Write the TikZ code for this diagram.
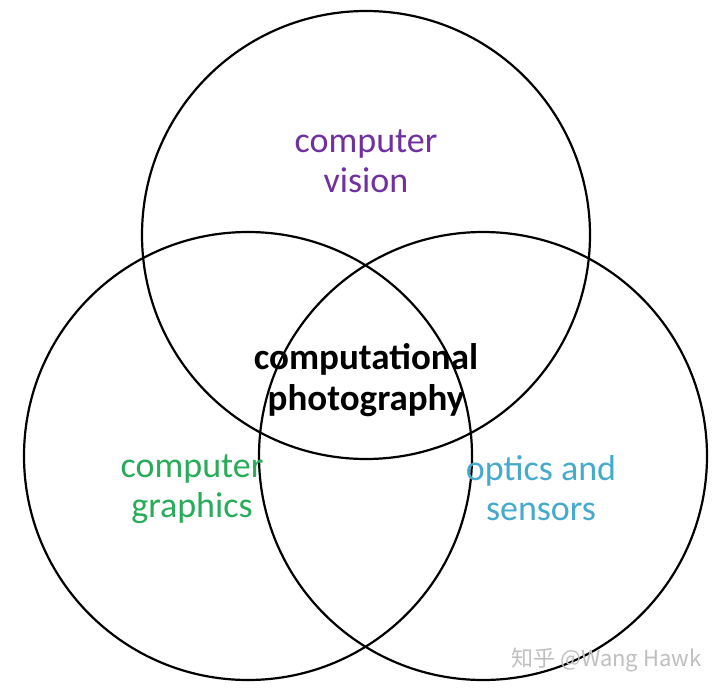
\documentclass[tikz,border=0pt]{standalone}
\usepackage{fontspec}
\setmainfont{Carlito}
\newfontfamily\cjk{Noto Sans CJK SC}
\usetikzlibrary{positioning}

\definecolor{cvpurple}{RGB}{112,48,160}
\definecolor{cggreen}{RGB}{40,172,90}
\definecolor{osblue}{RGB}{70,170,205}

\tikzset{
  field/.style={circle,draw,line width=2.2pt,minimum size=448pt,inner sep=0pt},
  label text/.style={align=center,font=\fontsize{36}{40}\selectfont}
}

\begin{document}
\begin{tikzpicture}[x=1pt,y=-1pt]
    \useasboundingbox (0,0) rectangle (720,693);
    \fill[white] (0,0) rectangle (720,693);
    \node[field] (vision) at (366,235) {};
    \node[field] (graphics) at (248,456) {};
    \node[field] (optics) at (483,456) {};
    \node[label text,text=cvpurple] (cv) at (366,161) {computer\\vision};
    \node[label text,text=cggreen] (cg) at (192,489) {computer\\graphics};
    \node[label text,text=osblue] (os) at (541,488) {optics and\\sensors};
    \node[label text,font=\fontsize{37}{41}\selectfont\bfseries] (cp) at (366,380) {computational\\photography};
    \node[text=black!25,font=\cjk\fontsize{22}{24}\selectfont,anchor=east] (mark) at (705,660) {知乎 @Wang Hawk};
  \end{tikzpicture}
\end{document}
